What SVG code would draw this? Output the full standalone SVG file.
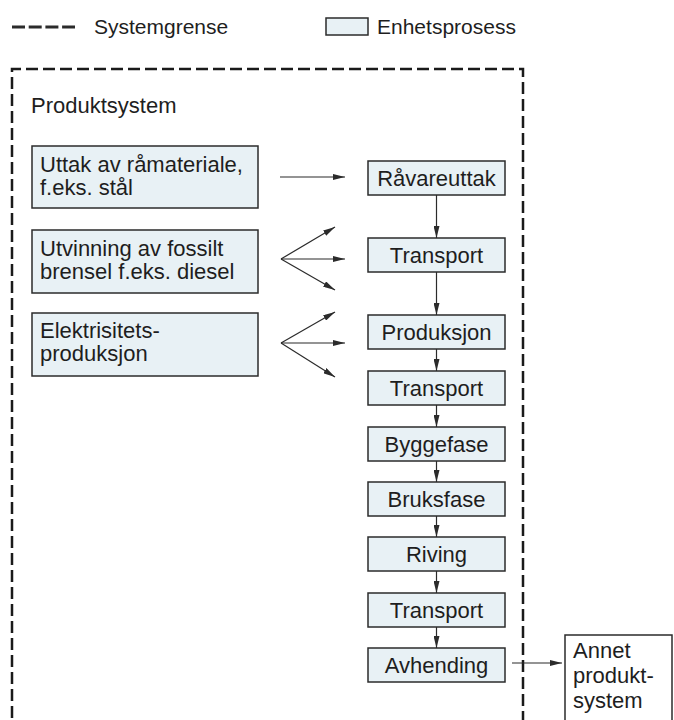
<svg xmlns="http://www.w3.org/2000/svg" width="674" height="720" viewBox="0 0 674 720">
<style>
text{font-family:"Liberation Sans",Arial,sans-serif;font-size:22px;fill:#1e1e1e}
.leg{font-size:21px}
.box{fill:#e8f1f5;stroke:#2b2b2b;stroke-width:1.5}
.wbox{fill:#ffffff;stroke:#2b2b2b;stroke-width:1.5}
.c{stroke:#2b2b2b;stroke-width:1.2;fill:none}
.mid{text-anchor:middle}
</style>
<defs>
<marker id="ah" viewBox="0 0 12 6" refX="12" refY="3" markerWidth="12" markerHeight="6" markerUnits="userSpaceOnUse" orient="auto">
<path d="M0,0 L12,3 L0,6 Z" fill="#2b2b2b"/>
</marker>
</defs>
<rect width="674" height="720" fill="#ffffff"/>
<g id="legend">
<line x1="12" y1="27" x2="75" y2="27" stroke="#2b2b2b" stroke-width="3" stroke-dasharray="13,3.7"/>
<text class="leg" x="94" y="34">Systemgrense</text>
<rect class="box" x="326" y="18" width="42" height="17"/>
<text class="leg" x="377" y="34">Enhetsprosess</text>
</g>
<g id="systemgrense">
<path d="M12,735 V69 H523 V735" fill="none" stroke="#1a1a1a" stroke-width="2.5" stroke-dasharray="12,5"/>
<text x="31" y="113">Produktsystem</text>
</g>
<g id="uttak">
<rect class="box" x="32" y="146" width="226" height="62"/>
<text x="40" y="172">Uttak av råmateriale,</text>
<text x="40" y="195">f.eks. stål</text>
</g>
<g id="utvinning">
<rect class="box" x="32" y="230" width="226" height="63"/>
<text x="40" y="256">Utvinning av fossilt</text>
<text x="40" y="279">brensel f.eks. diesel</text>
</g>
<g id="elektrisitet">
<rect class="box" x="32" y="313" width="226" height="63"/>
<text x="40" y="338">Elektrisitets-</text>
<text x="40" y="361">produksjon</text>
</g>
<g id="ravareuttak"><rect class="box" x="368" y="161" width="137" height="34"/><text class="mid" x="436.5" y="186">Råvareuttak</text></g>
<g id="transport1"><rect class="box" x="368" y="238" width="137" height="34"/><text class="mid" x="436.5" y="263">Transport</text></g>
<g id="produksjon"><rect class="box" x="368" y="315" width="137" height="34"/><text class="mid" x="436.5" y="340">Produksjon</text></g>
<g id="transport2"><rect class="box" x="368" y="371" width="137" height="34"/><text class="mid" x="436.5" y="396">Transport</text></g>
<g id="byggefase"><rect class="box" x="368" y="427" width="137" height="34"/><text class="mid" x="436.5" y="452">Byggefase</text></g>
<g id="bruksfase"><rect class="box" x="368" y="482" width="137" height="34"/><text class="mid" x="436.5" y="507">Bruksfase</text></g>
<g id="riving"><rect class="box" x="368" y="537" width="137" height="34"/><text class="mid" x="436.5" y="562">Riving</text></g>
<g id="transport3"><rect class="box" x="368" y="593" width="137" height="34"/><text class="mid" x="436.5" y="618">Transport</text></g>
<g id="avhending"><rect class="box" x="368" y="648" width="137" height="34"/><text class="mid" x="436.5" y="673">Avhending</text></g>
<g id="annet">
<rect class="wbox" x="565" y="635" width="107" height="95"/>
<text x="573" y="658">Annet</text>
<text x="573" y="683">produkt-</text>
<text x="573" y="708">system</text>
</g>
<g id="connectors" class="c" marker-end="url(#ah)">
<line x1="280" y1="177" x2="345" y2="177"/>
<line x1="281" y1="259" x2="335" y2="227"/>
<line x1="281" y1="259" x2="345" y2="259"/>
<line x1="281" y1="259" x2="335" y2="290"/>
<line x1="281" y1="343" x2="335" y2="312"/>
<line x1="281" y1="343" x2="345" y2="343"/>
<line x1="281" y1="343" x2="335" y2="377"/>
<line x1="436.5" y1="195" x2="436.5" y2="238"/>
<line x1="436.5" y1="272" x2="436.5" y2="315"/>
<line x1="436.5" y1="349" x2="436.5" y2="371"/>
<line x1="436.5" y1="405" x2="436.5" y2="427"/>
<line x1="436.5" y1="461" x2="436.5" y2="482"/>
<line x1="436.5" y1="516" x2="436.5" y2="537"/>
<line x1="436.5" y1="571" x2="436.5" y2="593"/>
<line x1="436.5" y1="627" x2="436.5" y2="648"/>
<line x1="512" y1="663" x2="562" y2="663"/>
</g>
</svg>
